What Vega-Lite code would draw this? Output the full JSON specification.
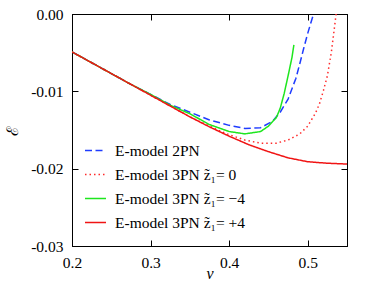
{
  "$schema": "https://vega.github.io/schema/vega-lite/v6.json",
  "width": 275,
  "height": 232,
  "padding": {"left": 72, "top": 14, "right": 27, "bottom": 43},
  "autosize": {"type": "none"},
  "background": "white",
  "config": {
    "font": "Liberation Serif",
    "view": {"stroke": "black", "strokeWidth": 1},
    "axis": {
      "domainColor": "black",
      "tickColor": "black",
      "labelColor": "black",
      "titleColor": "black",
      "labelFont": "Liberation Serif",
      "titleFont": "Liberation Serif",
      "labelFontSize": 15.5,
      "grid": false
    }
  },
  "data": {
    "values": [
      {"s": "E-model 2PN", "v": 0.20, "E": -0.0049},
      {"s": "E-model 2PN", "v": 0.225, "E": -0.0063},
      {"s": "E-model 2PN", "v": 0.25, "E": -0.0077},
      {"s": "E-model 2PN", "v": 0.275, "E": -0.0091},
      {"s": "E-model 2PN", "v": 0.30, "E": -0.0104},
      {"s": "E-model 2PN", "v": 0.325, "E": -0.0117},
      {"s": "E-model 2PN", "v": 0.35, "E": -0.0127},
      {"s": "E-model 2PN", "v": 0.375, "E": -0.0137},
      {"s": "E-model 2PN", "v": 0.40, "E": -0.0144},
      {"s": "E-model 2PN", "v": 0.42, "E": -0.0148},
      {"s": "E-model 2PN", "v": 0.44, "E": -0.0147},
      {"s": "E-model 2PN", "v": 0.455, "E": -0.0139},
      {"s": "E-model 2PN", "v": 0.465, "E": -0.0127},
      {"s": "E-model 2PN", "v": 0.475, "E": -0.0110},
      {"s": "E-model 2PN", "v": 0.485, "E": -0.0083},
      {"s": "E-model 2PN", "v": 0.49, "E": -0.0064},
      {"s": "E-model 2PN", "v": 0.495, "E": -0.0044},
      {"s": "E-model 2PN", "v": 0.50, "E": -0.0025},
      {"s": "E-model 2PN", "v": 0.505, "E": -0.0008},
      {"s": "E-model 2PN", "v": 0.509, "E": 0.0005},

      {"s": "E-model 3PN z̃₁= 0", "v": 0.20, "E": -0.0049},
      {"s": "E-model 3PN z̃₁= 0", "v": 0.225, "E": -0.0063},
      {"s": "E-model 3PN z̃₁= 0", "v": 0.25, "E": -0.0077},
      {"s": "E-model 3PN z̃₁= 0", "v": 0.275, "E": -0.0091},
      {"s": "E-model 3PN z̃₁= 0", "v": 0.30, "E": -0.0105},
      {"s": "E-model 3PN z̃₁= 0", "v": 0.325, "E": -0.0119},
      {"s": "E-model 3PN z̃₁= 0", "v": 0.35, "E": -0.0133},
      {"s": "E-model 3PN z̃₁= 0", "v": 0.375, "E": -0.0145},
      {"s": "E-model 3PN z̃₁= 0", "v": 0.39, "E": -0.0152},
      {"s": "E-model 3PN z̃₁= 0", "v": 0.40, "E": -0.0156},
      {"s": "E-model 3PN z̃₁= 0", "v": 0.42, "E": -0.0163},
      {"s": "E-model 3PN z̃₁= 0", "v": 0.44, "E": -0.0167},
      {"s": "E-model 3PN z̃₁= 0", "v": 0.46, "E": -0.0167},
      {"s": "E-model 3PN z̃₁= 0", "v": 0.475, "E": -0.0163},
      {"s": "E-model 3PN z̃₁= 0", "v": 0.49, "E": -0.0155},
      {"s": "E-model 3PN z̃₁= 0", "v": 0.50, "E": -0.0145},
      {"s": "E-model 3PN z̃₁= 0", "v": 0.51, "E": -0.0128},
      {"s": "E-model 3PN z̃₁= 0", "v": 0.515, "E": -0.0116},
      {"s": "E-model 3PN z̃₁= 0", "v": 0.52, "E": -0.0099},
      {"s": "E-model 3PN z̃₁= 0", "v": 0.525, "E": -0.0080},
      {"s": "E-model 3PN z̃₁= 0", "v": 0.53, "E": -0.0050},
      {"s": "E-model 3PN z̃₁= 0", "v": 0.5325, "E": -0.0030},
      {"s": "E-model 3PN z̃₁= 0", "v": 0.5365, "E": 0.0003},

      {"s": "E-model 3PN z̃₁= −4", "v": 0.20, "E": -0.0049},
      {"s": "E-model 3PN z̃₁= −4", "v": 0.225, "E": -0.0063},
      {"s": "E-model 3PN z̃₁= −4", "v": 0.25, "E": -0.0077},
      {"s": "E-model 3PN z̃₁= −4", "v": 0.275, "E": -0.0091},
      {"s": "E-model 3PN z̃₁= −4", "v": 0.30, "E": -0.0104},
      {"s": "E-model 3PN z̃₁= −4", "v": 0.325, "E": -0.0118},
      {"s": "E-model 3PN z̃₁= −4", "v": 0.35, "E": -0.0129},
      {"s": "E-model 3PN z̃₁= −4", "v": 0.375, "E": -0.0143},
      {"s": "E-model 3PN z̃₁= −4", "v": 0.40, "E": -0.0152},
      {"s": "E-model 3PN z̃₁= −4", "v": 0.42, "E": -0.0155},
      {"s": "E-model 3PN z̃₁= −4", "v": 0.44, "E": -0.0152},
      {"s": "E-model 3PN z̃₁= −4", "v": 0.45, "E": -0.0145},
      {"s": "E-model 3PN z̃₁= −4", "v": 0.46, "E": -0.0134},
      {"s": "E-model 3PN z̃₁= −4", "v": 0.465, "E": -0.0122},
      {"s": "E-model 3PN z̃₁= −4", "v": 0.47, "E": -0.0103},
      {"s": "E-model 3PN z̃₁= −4", "v": 0.475, "E": -0.0080},
      {"s": "E-model 3PN z̃₁= −4", "v": 0.48, "E": -0.0056},
      {"s": "E-model 3PN z̃₁= −4", "v": 0.4824, "E": -0.0040},

      {"s": "E-model 3PN z̃₁= +4", "v": 0.20, "E": -0.0049},
      {"s": "E-model 3PN z̃₁= +4", "v": 0.225, "E": -0.0063},
      {"s": "E-model 3PN z̃₁= +4", "v": 0.25, "E": -0.0077},
      {"s": "E-model 3PN z̃₁= +4", "v": 0.275, "E": -0.0091},
      {"s": "E-model 3PN z̃₁= +4", "v": 0.30, "E": -0.0105},
      {"s": "E-model 3PN z̃₁= +4", "v": 0.325, "E": -0.0119},
      {"s": "E-model 3PN z̃₁= +4", "v": 0.35, "E": -0.0133},
      {"s": "E-model 3PN z̃₁= +4", "v": 0.375, "E": -0.0146},
      {"s": "E-model 3PN z̃₁= +4", "v": 0.40, "E": -0.0158},
      {"s": "E-model 3PN z̃₁= +4", "v": 0.425, "E": -0.0169},
      {"s": "E-model 3PN z̃₁= +4", "v": 0.45, "E": -0.0178},
      {"s": "E-model 3PN z̃₁= +4", "v": 0.475, "E": -0.0186},
      {"s": "E-model 3PN z̃₁= +4", "v": 0.50, "E": -0.0191},
      {"s": "E-model 3PN z̃₁= +4", "v": 0.525, "E": -0.0193},
      {"s": "E-model 3PN z̃₁= +4", "v": 0.55, "E": -0.0194}
    ]
  },
  "layer": [
    {
      "mark": {"type": "line", "strokeWidth": 1.5, "clip": true},
      "encoding": {
        "x": {
          "field": "v", "type": "quantitative",
          "scale": {"domain": [0.2, 0.55], "nice": false, "zero": false},
          "axis": {"values": [0.2, 0.3, 0.4, 0.5], "format": ".1f", "tickSize": -6, "labelPadding": 15, "title": "ν", "titleFontStyle": "italic", "titleFontWeight": "normal", "titleFontSize": 16, "titlePadding": -5, "labelFlush": false}
        },
        "y": {
          "field": "E", "type": "quantitative",
          "scale": {"domain": [-0.03, 0], "nice": false, "zero": false},
          "axis": {"values": [-0.03, -0.02, -0.01, 0], "format": ".2f", "labelExpr": "replace(datum.label, '−', '-')", "tickSize": -6, "labelPadding": 15, "title": "ℰ", "titleFontWeight": "normal", "titleFontSize": 16, "titlePadding": 10, "labelFlush": false}
        },
        "color": {
          "field": "s", "type": "nominal",
          "scale": {
            "domain": ["E-model 2PN", "E-model 3PN z̃₁= 0", "E-model 3PN z̃₁= −4", "E-model 3PN z̃₁= +4"],
            "range": ["#1f3cff", "#ff2a2a", "#1ee61e", "#f01414"]
          },
          "legend": {
            "title": null,
            "orient": "none",
            "legendX": 12,
            "legendY": 125,
            "padding": 0,
            "symbolType": "stroke",
            "symbolSize": 441,
            "symbolStrokeWidth": 1.5,
            "labelFont": "Liberation Serif",
            "labelFontSize": 15.5,
            "labelColor": "black",
            "labelOffset": 8,
            "rowPadding": 4,
            "labelLimit": 300
          }
        },
        "strokeDash": {
          "field": "s", "type": "nominal",
          "scale": {
            "domain": ["E-model 2PN", "E-model 3PN z̃₁= 0", "E-model 3PN z̃₁= −4", "E-model 3PN z̃₁= +4"],
            "range": [[7, 3.5], [1.5, 3], [1, 0], [1, 0]]
          },
          "legend": {
            "title": null,
            "orient": "none",
            "legendX": 12,
            "legendY": 125,
            "padding": 0,
            "symbolType": "stroke",
            "symbolSize": 441,
            "symbolStrokeWidth": 1.5,
            "labelFont": "Liberation Serif",
            "labelFontSize": 15.5,
            "labelColor": "black",
            "labelOffset": 8,
            "rowPadding": 4,
            "labelLimit": 300
          }
        }
      }
    },
    {
      "mark": {"type": "line", "strokeOpacity": 0},
      "encoding": {
        "x": {"field": "v", "type": "quantitative", "axis": {"orient": "top", "values": [0.2, 0.3, 0.4, 0.5], "labels": false, "tickSize": -6, "title": null}},
        "y": {"field": "E", "type": "quantitative", "axis": {"orient": "right", "values": [-0.03, -0.02, -0.01, 0], "labels": false, "tickSize": -6, "title": null}},
        "detail": {"field": "s"}
      }
    }
  ],
  "resolve": {"axis": {"x": "independent", "y": "independent"}}
}
